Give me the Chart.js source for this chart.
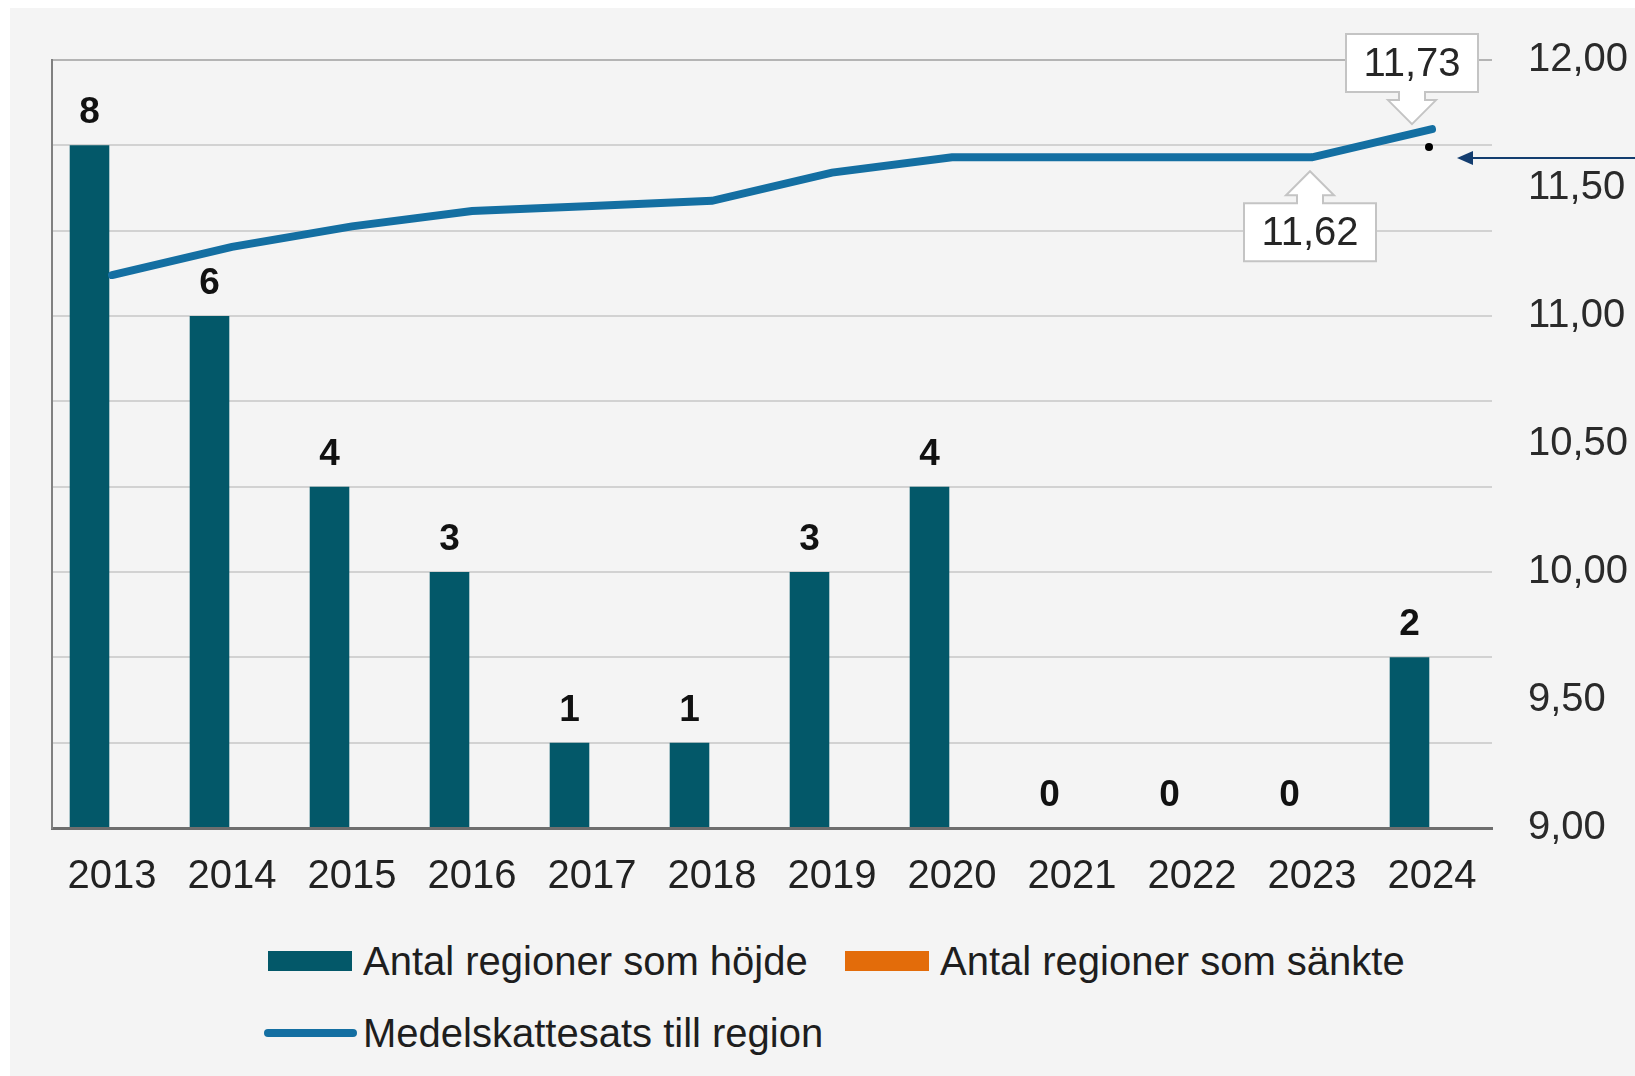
<!DOCTYPE html>
<html lang="sv">
<head>
<meta charset="utf-8">
<title>Regionernas skattesatser</title>
<script src="https://cdn.jsdelivr.net/npm/chart.js@4.4.1/dist/chart.umd.min.js"></script>
<style>
  html, body { margin: 0; padding: 0; background: #ffffff; }
  body { width: 1635px; height: 1076px; position: relative; overflow: hidden; font-family: "Liberation Sans", Arial, sans-serif; }
  #bg { position: absolute; left: 10px; top: 8px; right: 0; bottom: 0; background: #f4f4f4; }
  #wrap { position: absolute; left: 0; top: 0; width: 1635px; height: 930px; }
  #legend { position: absolute; left: 264px; top: 932px; width: 1250px; display: flex; flex-wrap: wrap; color: #1e1e1e; font-size: 40px; }
  .item { display: flex; align-items: center; height: 58px; margin-bottom: 14px; }
  .item:first-child { width: 577px; }
  .item.wrap { flex-basis: 100%; }
  .swatch { display: inline-block; margin-right: 11px; }
  .swatch.box { width: 84px; height: 20px; margin-left: 4px; }
  .swatch.line { width: 93px; height: 8px; border-radius: 4px; margin-right: 6px; }
</style>
</head>
<body>
<div id="bg"></div>
<div id="wrap"><canvas id="chart" width="1635" height="930"></canvas></div>
<div id="legend"></div>
<script>
// ─── DATA ────────────────────────────────────────────────────────────────────
const years = ['2013', '2014', '2015', '2016', '2017', '2018', '2019', '2020', '2021', '2022', '2023', '2024'];
const raised = [8, 6, 4, 3, 1, 1, 3, 4, 0, 0, 0, 2];
const lowered = [0, 0, 0, 0, 0, 0, 0, 0, 0, 0, 0, 0];
const avgRate = [11.16, 11.27, 11.35, 11.41, 11.43, 11.45, 11.56, 11.62, 11.62, 11.62, 11.62, 11.73];
const rateTicks = [9, 9.5, 10, 10.5, 11, 11.5, 12];
const seriesLabels = ['Antal regioner som höjde', 'Antal regioner som sänkte', 'Medelskattesats till region'];

const FONT = '"Liberation Sans", Arial, sans-serif';
const TEAL = '#035869';
const ORANGE = '#e36c0a';
const BLUE = '#146fa2';

function fmtRate(v) {
  return v.toFixed(2).replace('.', ',');
}

// labels above the "höjde" bars, zeros included
const barLabels = {
  id: 'barLabels',
  afterDatasetsDraw(chart) {
    const ctx = chart.ctx;
    const meta = chart.getDatasetMeta(0);
    ctx.save();
    ctx.font = 'bold 37px ' + FONT;
    ctx.fillStyle = '#111';
    ctx.textAlign = 'center';
    ctx.textBaseline = 'alphabetic';
    meta.data.forEach((bar, i) => {
      ctx.fillText(String(raised[i]), bar.x, bar.y - 22);
    });
    ctx.restore();
  }
};

function calloutPath(ctx, ax, ay, dir) {
  const s = dir === 'down' ? -1 : 1; // box above (down arrow) or below (up arrow)
  const headLen = 24, shaftLen = 8, headHalf = 24, shaftHalf = 13, boxH = 58, boxHalf = 66;
  const headBase = ay + s * headLen;
  const boxNear = headBase + s * shaftLen;
  const boxFar = boxNear + s * boxH;
  ctx.beginPath();
  ctx.moveTo(ax, ay);
  ctx.lineTo(ax + headHalf, headBase);
  ctx.lineTo(ax + shaftHalf, headBase);
  ctx.lineTo(ax + shaftHalf, boxNear);
  ctx.lineTo(ax + boxHalf, boxNear);
  ctx.lineTo(ax + boxHalf, boxFar);
  ctx.lineTo(ax - boxHalf, boxFar);
  ctx.lineTo(ax - boxHalf, boxNear);
  ctx.lineTo(ax - shaftHalf, boxNear);
  ctx.lineTo(ax - shaftHalf, headBase);
  ctx.lineTo(ax - headHalf, headBase);
  ctx.closePath();
  return (boxNear + boxFar) / 2;
}

// callouts for the last two rates, plus the stray dot and the pointer arrow
const callouts = {
  id: 'callouts',
  afterDatasetsDraw(chart) {
    const ctx = chart.ctx;
    const meta = chart.getDatasetMeta(2);
    const marks = [
      { i: avgRate.length - 2, dir: 'up', dx: -2, dy: 14 },
      { i: avgRate.length - 1, dir: 'down', dx: -20, dy: -5 }
    ];
    ctx.save();
    marks.forEach(m => {
      const pt = meta.data[m.i];
      const ax = pt.x + m.dx, ay = pt.y + m.dy;
      const mid = calloutPath(ctx, ax, ay, m.dir);
      ctx.fillStyle = '#ffffff';
      ctx.fill();
      ctx.strokeStyle = '#c4c4c4';
      ctx.lineWidth = 2;
      ctx.stroke();
      ctx.font = '40px ' + FONT;
      ctx.fillStyle = '#262626';
      ctx.textAlign = 'center';
      ctx.textBaseline = 'middle';
      ctx.fillText(fmtRate(avgRate[m.i]), ax, mid + 2);
    });

    const last = meta.data[avgRate.length - 1];
    ctx.fillStyle = '#000';
    ctx.beginPath();
    ctx.arc(last.x - 3, last.y + 18, 4, 0, Math.PI * 2);
    ctx.fill();

    const ay = last.y + 29, tip = last.x + 25;
    ctx.strokeStyle = '#133d6f';
    ctx.fillStyle = '#133d6f';
    ctx.lineWidth = 2;
    ctx.beginPath();
    ctx.moveTo(chart.width, ay);
    ctx.lineTo(tip + 12, ay);
    ctx.stroke();
    ctx.beginPath();
    ctx.moveTo(tip, ay);
    ctx.lineTo(tip + 16, ay - 7);
    ctx.lineTo(tip + 16, ay + 7);
    ctx.closePath();
    ctx.fill();
    ctx.restore();
  }
};

function renderChart() {
  const ctx = document.getElementById('chart').getContext('2d');
  new Chart(ctx, {
    type: 'bar',
    data: {
      labels: years,
      datasets: [
        { label: seriesLabels[0], data: raised, backgroundColor: TEAL, yAxisID: 'y', order: 1, categoryPercentage: 0.75, barPercentage: 0.88 },
        { label: seriesLabels[1], data: lowered, backgroundColor: ORANGE, yAxisID: 'y', order: 1, categoryPercentage: 0.75, barPercentage: 0.88 },
        { type: 'line', label: seriesLabels[2], data: avgRate, borderColor: BLUE, borderWidth: 8, pointRadius: 0, tension: 0, yAxisID: 'y1', order: 0, borderCapStyle: 'round' }
      ]
    },
    options: {
      responsive: false,
      animation: false,
      events: [],
      layout: { padding: { left: 42, top: 59, right: 0, bottom: 0 } },
      plugins: { legend: { display: false }, tooltip: { enabled: false } },
      scales: {
        x: {
          grid: { display: false, drawTicks: false },
          border: { display: true, color: '#6e6e6e', width: 3 },
          ticks: { color: '#222', font: { family: FONT, size: 40 }, padding: 25, maxRotation: 0, autoSkip: false },
          afterFit: s => { s.height = 102; }
        },
        y: {
          position: 'left',
          min: 0, max: 9,
          ticks: { display: false, stepSize: 1 },
          grid: { drawTicks: false, color: c => c.tick.value === 9 ? '#b4b4b4' : '#d2d2d2', lineWidth: 2 },
          border: { display: true, color: '#808080', width: 2 },
          afterFit: s => { s.width = 10; }
        },
        y1: {
          position: 'right',
          min: rateTicks[0], max: rateTicks[rateTicks.length - 1],
          grid: { display: false, drawTicks: false },
          border: { display: false },
          afterBuildTicks: s => { s.ticks = rateTicks.map(v => ({ value: v })); },
          ticks: { color: '#2a2a2a', font: { family: FONT, size: 40 }, padding: 36, callback: v => fmtRate(v) },
          afterFit: s => { s.width = 143; }
        }
      }
    },
    plugins: [barLabels, callouts]
  });
}

function renderLegend() {
  const swatches = [
    `<span class="swatch box" style="background:${TEAL}"></span>`,
    `<span class="swatch box" style="background:${ORANGE}"></span>`,
    `<span class="swatch line" style="background:${BLUE}"></span>`
  ];
  document.getElementById('legend').innerHTML = seriesLabels.map((l, i) =>
    `<div class="item${i === 2 ? ' wrap' : ''}">${swatches[i]}<span>${l}</span></div>`
  ).join('');
}

renderChart();
renderLegend();
</script>
</body>
</html>
